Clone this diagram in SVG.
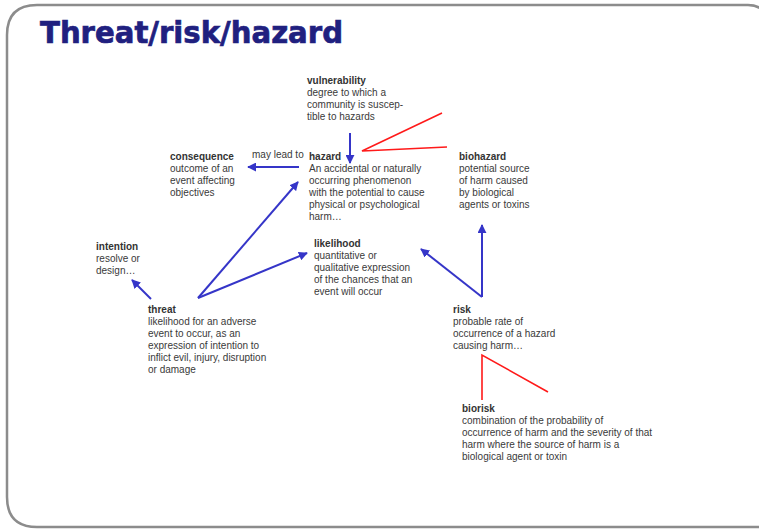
<svg xmlns="http://www.w3.org/2000/svg" width="759" height="530" viewBox="0 0 759 530">
  <style>
    .t { font-family: "Liberation Sans", Arial, sans-serif; font-size: 10px; fill: #3a3a3a; }
    .b { font-weight: bold; fill: #333333; }
    .title { font-family: "DejaVu Sans", Verdana, sans-serif; font-weight: bold; font-size: 31px; fill: #20207f; stroke: #20207f; stroke-width: 0.7; }
    .arrow { stroke: #3535c8; stroke-width: 2; fill: none; marker-end: url(#head); }
    .red { stroke: #ff1a1a; stroke-width: 1.6; fill: none; }
  </style>
  <defs>
    <marker id="head" viewBox="0 0 10 10" refX="9" refY="5" markerWidth="4.5" markerHeight="4.5" orient="auto" markerUnits="strokeWidth">
      <path d="M0,0 L10,5 L0,10 z" fill="#3535c8"/>
    </marker>
  </defs>
  <rect width="759" height="530" fill="#ffffff"/>
  <!-- slide frame -->
  <path d="M7,35 Q7,5 37,5 L748,5 Q760,5 766,14 L766,527 L37,527 Q7,527 7,497 Z" fill="none" stroke="#8c8c8c" stroke-width="2.5"/>
  <text class="title" x="40" y="43" textLength="303" lengthAdjust="spacingAndGlyphs">Threat/risk/hazard</text>

  <g id="connectors">
    <line class="arrow" x1="350" y1="133" x2="350" y2="163"/>
    <line class="arrow" x1="299" y1="167" x2="248" y2="167"/>
    <line class="arrow" x1="198" y1="298" x2="298" y2="182"/>
    <line class="arrow" x1="198" y1="298" x2="307" y2="253"/>
    <line class="arrow" x1="151" y1="299" x2="132" y2="280"/>
    <line class="arrow" x1="482" y1="297" x2="421" y2="249"/>
    <line class="arrow" x1="482" y1="297" x2="482" y2="225"/>
    <polyline class="red" points="442,113 362,151 447,147"/>
    <polyline class="red" points="482,400 482,355 548,392"/>
  </g>

  <g id="vulnerability">
    <text class="t b" x="307" y="84">vulnerability</text>
    <text class="t" x="307" y="96">degree to which a</text>
    <text class="t" x="307" y="108">community is suscep-</text>
    <text class="t" x="307" y="120">tible to hazards</text>
  </g>
  <g id="hazard">
    <text class="t b" x="309" y="160">hazard</text>
    <text class="t" x="309" y="172">An accidental or naturally</text>
    <text class="t" x="309" y="184">occurring phenomenon</text>
    <text class="t" x="309" y="196">with the potential to cause</text>
    <text class="t" x="309" y="208">physical or psychological</text>
    <text class="t" x="309" y="220">harm…</text>
  </g>
  <g id="consequence">
    <text class="t" x="252" y="158">may lead to</text>
    <text class="t b" x="170" y="160">consequence</text>
    <text class="t" x="170" y="172">outcome of an</text>
    <text class="t" x="170" y="184">event affecting</text>
    <text class="t" x="170" y="196">objectives</text>
  </g>
  <g id="biohazard">
    <text class="t b" x="459" y="160">biohazard</text>
    <text class="t" x="459" y="172">potential source</text>
    <text class="t" x="459" y="184">of harm caused</text>
    <text class="t" x="459" y="196">by biological</text>
    <text class="t" x="459" y="208">agents or toxins</text>
  </g>
  <g id="likelihood">
    <text class="t b" x="314" y="247">likelihood</text>
    <text class="t" x="314" y="259">quantitative or</text>
    <text class="t" x="314" y="271">qualitative expression</text>
    <text class="t" x="314" y="283">of the chances that an</text>
    <text class="t" x="314" y="295">event will occur</text>
  </g>
  <g id="intention">
    <text class="t b" x="96" y="250">intention</text>
    <text class="t" x="96" y="262">resolve or</text>
    <text class="t" x="96" y="274">design…</text>
  </g>
  <g id="threat">
    <text class="t b" x="148" y="313">threat</text>
    <text class="t" x="148" y="325">likelihood for an adverse</text>
    <text class="t" x="148" y="337">event to occur, as an</text>
    <text class="t" x="148" y="349">expression of intention to</text>
    <text class="t" x="148" y="361">inflict evil, injury, disruption</text>
    <text class="t" x="148" y="373">or damage</text>
  </g>
  <g id="risk">
    <text class="t b" x="453" y="313">risk</text>
    <text class="t" x="453" y="325">probable rate of</text>
    <text class="t" x="453" y="337">occurrence of a hazard</text>
    <text class="t" x="453" y="349">causing harm…</text>
  </g>
  <g id="biorisk">
    <text class="t b" x="462" y="412">biorisk</text>
    <text class="t" x="462" y="424">combination of the probability of</text>
    <text class="t" x="462" y="436">occurrence of harm and the severity of that</text>
    <text class="t" x="462" y="448">harm where the source of harm is a</text>
    <text class="t" x="462" y="460">biological agent or toxin</text>
  </g>
</svg>
